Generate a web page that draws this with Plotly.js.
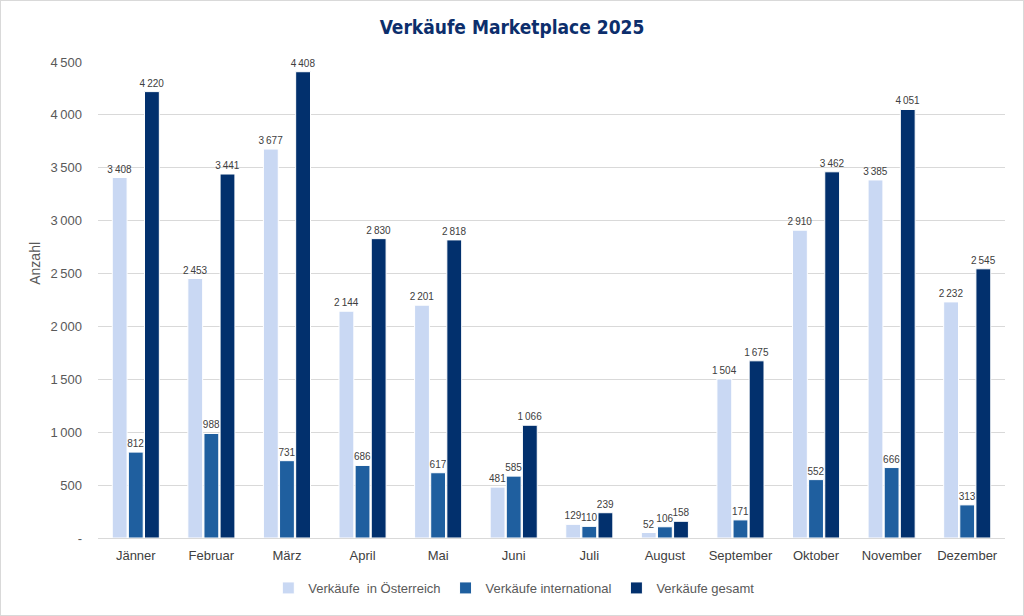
<!DOCTYPE html>
<html>
<head>
<meta charset="utf-8">
<script src="https://cdn.plot.ly/plotly-3.0.1.min.js"></script>
<style>
html,body{margin:0;padding:0;background:#fff;}
#chart{width:1022px;height:614px;border:1px solid #d9d9d9;}
</style>
</head>
<body>
<div id="chart"></div>
<script>
const months = ["Jänner","Februar","März","April","Mai","Juni","Juli","August","September","Oktober","November","Dezember"];
const oesterreich = [3408,2453,3677,2144,2201,481,129,52,1504,2910,3385,2232];
const international = [812,988,731,686,617,585,110,106,171,552,666,313];
const gesamt = [4220,3441,4408,2830,2818,1066,239,158,1675,3462,4051,2545];
const tickVals = [0,500,1000,1500,2000,2500,3000,3500,4000,4500];
const tickText = ["-","500","1\u2009000","1\u2009500","2\u2009000","2\u2009500","3\u2009000","3\u2009500","4\u2009000","4\u2009500"];

function fmt(v){
  const s = String(v);
  return s.length > 3 ? s.slice(0, s.length-3) + "\u2009" + s.slice(-3) : s;
}

function series(name, vals, color){
  return {
    type:'bar', name:name, x:months, y:vals,
    marker:{color:color, line:{color:'#ffffff', width:1}},
    text: vals.map(fmt), textposition:'outside', cliponaxis:false, constraintext:'none',
    textfont:{size:10, color:'#404040'},
    hoverinfo:'none'
  };
}

const data = [
  series("Verkäufe  in Österreich", oesterreich, '#C9D8F3'),
  series("Verkäufe international", international, '#1F5F9F'),
  series("Verkäufe gesamt", gesamt, '#02306D')
];

const layout = {
  width:1022, height:614,
  margin:{l:97, r:18, t:61, b:75},
  paper_bgcolor:'#fff', plot_bgcolor:'#fff',
  font:{family:'Liberation Sans, Arial, sans-serif', color:'#595959'},
  title:{text:'<b>Verkäufe Marketplace 2025</b>', x:0.5, xanchor:'center', y:0.957, yanchor:'middle',
    font:{family:'DejaVu Sans Condensed, sans-serif', size:19, color:'#0C2E6C'}},
  barmode:'group', bargap:0.36, bargroupgap:0.08,
  xaxis:{showgrid:false, showline:false, ticks:'', ticklabelstandoff:8, tickfont:{size:13, color:'#404040'}},
  yaxis:{range:[0,4500], tickvals:tickVals, ticktext:tickText, showgrid:true, gridcolor:'#D9D9D9', gridwidth:1,
    zeroline:true, zerolinecolor:'#D9D9D9', zerolinewidth:1, ticks:'', ticklabelstandoff:15,
    tickfont:{size:13, color:'#595959'}},
  annotations:[{text:'Anzahl', xref:'paper', yref:'paper', x:-0.069, y:0.577, xanchor:'center', yanchor:'middle',
    textangle:-90, showarrow:false, font:{size:14, color:'#595959'}}],
  legend:{orientation:'h', x:0.459, xanchor:'center', y:-0.105, yanchor:'middle', font:{size:13, color:'#595959'},
    itemwidth:30, traceorder:'normal'},
  showlegend:true
};

Plotly.newPlot('chart', data, layout, {staticPlot:true});
</script>
</body>
</html>
